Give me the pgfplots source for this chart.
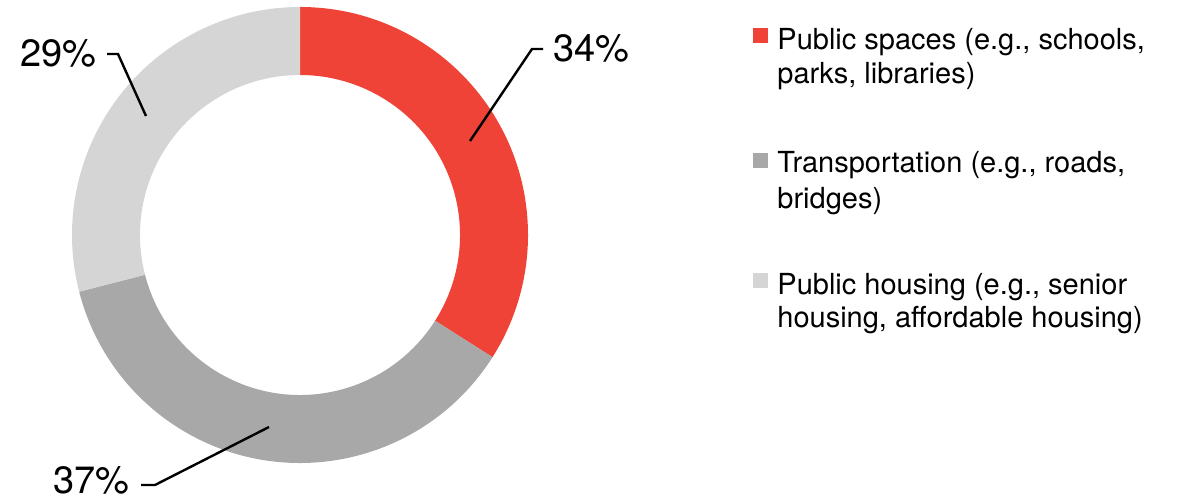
\documentclass[border=0pt]{standalone}
\usepackage{pgfplots}
\pgfplotsset{compat=1.18}
\usepackage{fontspec}
\setmainfont{TeX Gyre Heros}
\usetikzlibrary{calc}
\definecolor{slicered}{RGB}{239,67,56}
\definecolor{slicedark}{RGB}{168,168,168}
\definecolor{slicelight}{RGB}{213,213,213}

% shares (percent), clockwise from 12 o'clock
\def\vA{34}\def\vB{37}\def\vC{29}

\newcommand\donutslice[3]{%
  \fill[#1] ($(axis cs:300,267)+(#2:114bp)$)
    arc[start angle=#2, end angle=#3, radius=114bp]
    -- ($(axis cs:300,267)+(#3:80bp)$)
    arc[start angle=#3, end angle=#2, radius=80bp] -- cycle;}

\begin{document}
\begin{tikzpicture}
\pgfmathsetmacro\aA{90}
\pgfmathsetmacro\aB{\aA-3.6*\vA}
\pgfmathsetmacro\aC{\aB-3.6*\vB}
\pgfmathsetmacro\aD{\aC-3.6*\vC}
\begin{axis}[
  x=0.5bp, y=0.5bp,
  xmin=0, xmax=1180, ymin=0, ymax=502,
  enlargelimits=false,
  hide axis, clip=false,
]
\coordinate (bl) at (axis cs:0,0);
\coordinate (tr) at (axis cs:1180,502);
\donutslice{slicered}{\aA}{\aB}
\donutslice{slicedark}{\aB}{\aC}
\donutslice{slicelight}{\aC}{\aD}

% leader lines
\addplot[black, line width=1.2bp, mark=none] coordinates {(470,361) (532,453) (543,453)};
\addplot[black, line width=1.2bp, mark=none] coordinates {(146,386) (118,448) (107,448)};
\addplot[black, line width=1.2bp, mark=none] coordinates {(269,75) (155,17) (141,17)};

\node[anchor=base west, font=\fontsize{19bp}{22bp}\selectfont, inner sep=0pt]
  at (axis cs:553,440) {\vA\%};
\node[anchor=base east, font=\fontsize{19bp}{22bp}\selectfont, inner sep=0pt]
  at (axis cs:97,435) {\vC\%};
\node[anchor=base east, font=\fontsize{19bp}{22bp}\selectfont, inner sep=0pt]
  at (axis cs:130,8) {\vB\%};

% legend
\fill[slicered] (axis cs:753,459) rectangle (axis cs:768,474);
\fill[slicedark] (axis cs:753,334) rectangle (axis cs:768,349);
\fill[slicelight] (axis cs:753,214) rectangle (axis cs:768,229);
\begin{scope}[every node/.style={anchor=base west, inner sep=0pt,
    font=\fontsize{14.5bp}{17bp}\selectfont}]
\node at (axis cs:777,452) {Public spaces (e.g., schools,};
\node at (axis cs:777,418) {parks, libraries)};
\node at (axis cs:777,329) {Transportation (e.g., roads,};
\node at (axis cs:777,293) {bridges)};
\node at (axis cs:777,207) {Public housing (e.g., senior};
\node at (axis cs:777,174) {housing, affordable housing)};
\end{scope}
\end{axis}
\pgfresetboundingbox
\path (bl) rectangle (tr);
\end{tikzpicture}
\end{document}
